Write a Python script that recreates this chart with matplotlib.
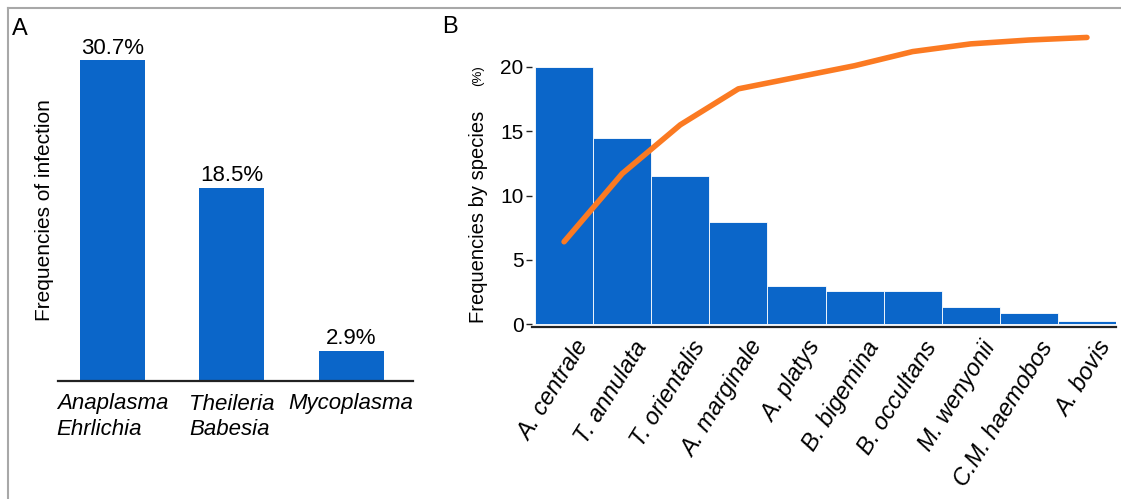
import matplotlib

matplotlib.use("Agg")
import matplotlib.pyplot as plt
from matplotlib.lines import Line2D

# panel A: infection frequency by genus group
genus_labels = ["Anaplasma\nEhrlichia", "Theileria\nBabesia", "Mycoplasma"]
genus_freq = [30.7, 18.5, 2.9]

# panel B: frequency by species + cumulative curve
species = [
    "A. centrale", "T. annulata", "T. orientalis", "A. marginale", "A. platys",
    "B. bigemina", "B. occultans", "M. wenyonii", "C.M. haemobos", "A. bovis",
]
species_freq = [20.0, 14.5, 11.5, 7.9, 2.95, 2.56, 2.56, 1.35, 0.83, 0.2]
cumulative = [6.4, 11.7, 15.5, 18.3, 19.2, 20.1, 21.2, 21.8, 22.1, 22.3]

BLUE = "#0b66c9"
ORANGE = "#fb7a22"
W, H = 1121, 499

plt.rcParams["font.family"] = ["Liberation Sans", "DejaVu Sans"]

fig = plt.figure(figsize=(W / 100, H / 100), dpi=100)


def px_axes(left, top, right, bottom):
    """Place an axes by pixel box (origin at top-left of the image)."""
    return fig.add_axes([left / W, 1 - bottom / H, (right - left) / W, (bottom - top) / H])


# ---- panel A ----
axA = px_axes(58, 60, 413, 381)
xa = list(range(len(genus_freq)))
axA.bar(xa, genus_freq, width=0.544, color=BLUE)
axA.set_xlim(-0.456, 2.519)
axA.set_ylim(0, 30.7)
for x, v in zip(xa, genus_freq):
    axA.annotate(f"{v}%", xy=(x, v), xytext=(0, 1), textcoords="offset points",
                 ha="center", va="bottom", fontsize=16, annotation_clip=False)
axA.set_xticks(xa)
axA.set_xticklabels(genus_labels, fontsize=16, style="italic", linespacing=1.3,
                    multialignment="left")
axA.tick_params(axis="x", length=0, pad=9)
axA.set_yticks([])
for s in ("left", "top", "right"):
    axA.spines[s].set_visible(False)
axA.spines["bottom"].set_linewidth(1.6)
axA.spines["bottom"].set_color("#222222")
fig.text(45 / W, 1 - 210 / H, "Frequencies of infection", rotation=90,
         ha="center", va="center", fontsize=15)

# ---- panel B ----
ppu = 12.85  # pixels per unit on the y axis
axB = px_axes(532, 30, 1116, 327)
xb = list(range(len(species)))
axB.bar(xb, species_freq, width=1.0, color=BLUE, edgecolor="white", linewidth=0.6)
axB.plot(xb, cumulative, color=ORANGE, lw=4.0, solid_capstyle="round",
         solid_joinstyle="round", clip_on=False)
axB.set_xlim(-0.552, 9.5)
axB.set_ylim(-3 / ppu, -3 / ppu + 297 / ppu)
axB.set_yticks([0, 5, 10, 15, 20])
axB.set_yticklabels(["0", "5", "10", "15", "20"],
                    family=["Liberation Sans Narrow", "Liberation Sans"], fontsize=15)
axB.tick_params(axis="y", length=4, width=1, color="#222222", pad=2)
axB.set_xticks([])
for s in ("left", "top", "right"):
    axB.spines[s].set_visible(False)
axB.spines["bottom"].set_linewidth(1.6)
axB.spines["bottom"].set_color("#222222")
for x, name in zip(xb, species):
    axB.annotate(name, xy=(x, 0), xycoords=("data", "axes fraction"),
                 xytext=(7, -7), textcoords="offset points", rotation=58,
                 rotation_mode="anchor", ha="right", va="top",
                 fontsize=17, style="italic", annotation_clip=False)
fig.text(478 / W, 1 - 217 / H, "Frequencies by species", rotation=90,
         ha="center", va="center", fontsize=14.5)
fig.text(478 / W, 1 - 76 / H, "(%)", rotation=90, ha="center", va="center", fontsize=9.5)

# panel letters and frame lines
fig.text(12 / W, 1 - 29 / H, "A", fontsize=17, va="center")
fig.text(442 / W, 1 - 27 / H, "B", fontsize=17, va="center")
fig.add_artist(Line2D([8 / W, 1], [1 - 8 / H, 1 - 8 / H], color="#a8a8a8", lw=1.5))
fig.add_artist(Line2D([8 / W, 8 / W], [0, 1 - 8 / H], color="#a8a8a8", lw=1.5))

fig.savefig("out.png", dpi=100)
